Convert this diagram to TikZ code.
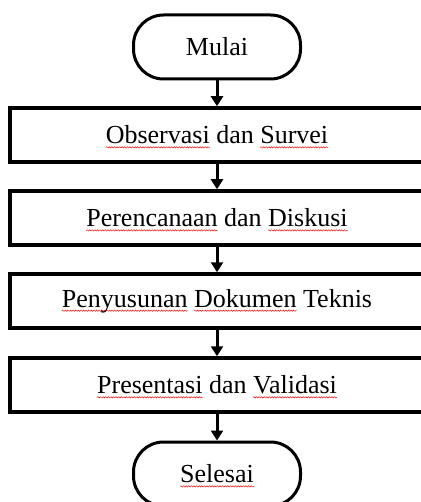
\documentclass[tikz,border=0pt]{standalone}
\usepackage{fontspec}
\setmainfont{Liberation Serif}
\usetikzlibrary{arrows.meta, positioning, decorations.pathmorphing}
% red wavy underline for the flagged words
\newlength\splw
\newcommand\spl[1]{\settowidth\splw{#1}\rlap{\tikz[overlay]\draw[red, line width=0.45pt, sharp corners, decorate,
    decoration={snake, amplitude=0.7pt, segment length=2.6pt}] (0pt,-3.5pt) -- (\splw,-3.5pt);}#1}

\begin{document}
\begin{tikzpicture}[x=1pt,y=-1pt,
        proc/.style={draw, line width=3.5pt, minimum width=414pt, minimum height=54pt, inner sep=0pt},
        term/.style={draw, line width=3pt, rounded corners=30pt, minimum width=167pt, minimum height=64pt},
        flow/.style={line width=3pt, -{Triangle[width=12pt,length=10pt]}},
        font=\fontsize{26}{31}\selectfont]
        \useasboundingbox (0,0) rectangle (420,502);
%
        \node[term] (A) at (217,47)  {Mulai};
        \node[proc] (B) at (217,135) {\spl{Observasi} dan \spl{Survei}};
        \node[proc] (C) at (217,218) {\spl{Perencanaan} dan \spl{Diskusi}};
        \node[proc] (D) at (217,301) {\spl{Penyusunan} \spl{Dokumen} Teknis};
        \node[proc] (E) at (217,385) {\spl{Presentasi} dan \spl{Validasi}};
        \node[term] (F) at (217,474) {\spl{Selesai}};
%
        \draw[flow] (A) -- (B);
        \draw[flow] (B) -- (C);
        \draw[flow] (C) -- (D);
        \draw[flow] (D) -- (E);
        \draw[flow] (E) -- (F);
      \end{tikzpicture}
\end{document}
